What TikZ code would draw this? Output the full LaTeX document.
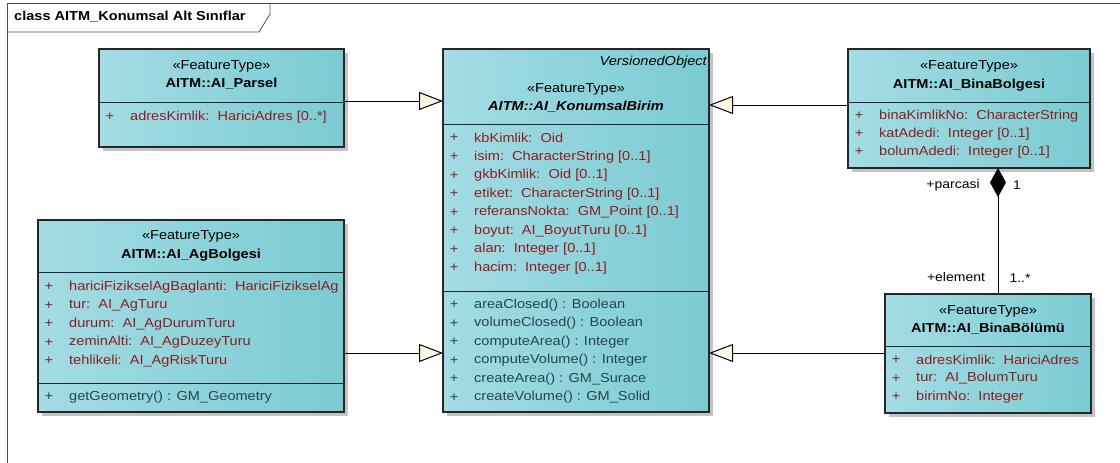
\documentclass[tikz,border=0pt]{standalone}
\usepackage{fontspec}
\setmainfont{Liberation Sans}[FakeStretch=1.12]
\usetikzlibrary{arrows.meta,shadows}
\definecolor{clsL}{HTML}{A3DCE4}
\definecolor{clsR}{HTML}{7BCBD2}
\definecolor{attrc}{HTML}{8B1E1E}
\definecolor{opc}{HTML}{23474C}
\definecolor{cream}{HTML}{FDF6E3}
\definecolor{shd}{HTML}{C4C4C4}
\newcommand\umlrow[5]{%
  \node[rowtxt,anchor=center,text=#4] (#1p) at (#2+11,#3) {+};
  \node[rowtxt,anchor=west,text=#4] (#1t) at (#2+31,#3) {#5};}
\begin{document}
\begin{tikzpicture}[x=1pt,y=-1pt,
  font=\fontsize{13}{15}\selectfont,
  cls/.style={draw=black!85, line width=1.2pt, left color=clsL, right color=clsR,
    anchor=north west, inner sep=0, outer sep=0,
    drop shadow={shadow xshift=4pt, shadow yshift=-4pt, fill=shd, opacity=1}},
  div/.style={draw=black!85, line width=1pt},
  rowtxt/.style={inner sep=0},
  stereo/.style={inner sep=0},
  cname/.style={inner sep=0, font=\fontsize{13}{15}\selectfont\bfseries},
  gen/.style={line width=1pt, -{Triangle[length=24pt,width=18pt,fill=cream]}},
  comp/.style={line width=1pt, {Diamond[length=29pt,width=16pt,fill=black]}-},
  lbl/.style={inner sep=0, font=\fontsize{12.5}{15}\selectfont}]
\useasboundingbox (0,0) rectangle (1120,463);
% frame
\draw[line width=0.8pt, black!70] (7,470) -- (7,3) -- (1125,3);
\draw[line width=0.8pt, black!70] (7,32) -- (259,32) -- (270,14) -- (270,3);
\node[anchor=west, inner sep=0, font=\fontsize{13}{15}\selectfont\bfseries] (title) at (14,17) {class AITM\_Konumsal Alt Sınıflar};

% AI_Parsel
\node[cls, minimum width=245pt, minimum height=98pt] (parsel) at (99,49) {};
\node[stereo] (parselS) at (221.5,66) {«FeatureType»};
\node[cname] (parselN) at (221.5,84) {AITM::AI\_Parsel};
\draw[div] (parsel.west |- 0,102) -- (parsel.east |- 0,102);
\umlrow{pa}{99}{117}{attrc}{adresKimlik:\ \ HariciAdres [0..*]}

% AI_KonumsalBirim
\node[cls, minimum width=266pt, minimum height=363pt] (konum) at (443,49) {};
\node[stereo, anchor=east, font=\fontsize{13}{15}\selectfont\itshape] (konumV) at (707,62) {VersionedObject};
\node[stereo] (konumS) at (576,89) {«FeatureType»};
\node[cname, font=\fontsize{13}{15}\selectfont\bfseries\itshape] (konumN) at (576,107) {AITM::AI\_KonumsalBirim};
\draw[div] (konum.west |- 0,124) -- (konum.east |- 0,124);
\umlrow{ka}{443}{138}{attrc}{kbKimlik:\ \ Oid}
\umlrow{kb}{443}{157}{attrc}{isim:\ \ CharacterString [0..1]}
\umlrow{kc}{443}{175.5}{attrc}{gkbKimlik:\ \ Oid [0..1]}
\umlrow{kd}{443}{194}{attrc}{etiket:\ \ CharacterString [0..1]}
\umlrow{ke}{443}{212.5}{attrc}{referansNokta:\ \ GM\_Point [0..1]}
\umlrow{kf}{443}{231}{attrc}{boyut:\ \ AI\_BoyutTuru [0..1]}
\umlrow{kg}{443}{249.5}{attrc}{alan:\ \ Integer [0..1]}
\umlrow{kh}{443}{268}{attrc}{hacim:\ \ Integer [0..1]}
\draw[div] (konum.west |- 0,291) -- (konum.east |- 0,291);
\umlrow{ko}{443}{305}{opc}{areaClosed() : Boolean}
\umlrow{kp}{443}{323.5}{opc}{volumeClosed() : Boolean}
\umlrow{kq}{443}{342}{opc}{computeArea() : Integer}
\umlrow{kr}{443}{360.5}{opc}{computeVolume() : Integer}
\umlrow{ks}{443}{379}{opc}{createArea() : GM\_Surace}
\umlrow{kt}{443}{397.5}{opc}{createVolume() : GM\_Solid}

% AI_BinaBolgesi
\node[cls, minimum width=242pt, minimum height=119pt] (bina) at (848,49) {};
\node[stereo] (binaS) at (969,66) {«FeatureType»};
\node[cname] (binaN) at (969,85) {AITM::AI\_BinaBolgesi};
\draw[div] (bina.west |- 0,102) -- (bina.east |- 0,102);
\umlrow{ba}{848}{116}{attrc}{binaKimlikNo:\ \ CharacterString}
\umlrow{bb}{848}{134}{attrc}{katAdedi:\ \ Integer [0..1]}
\umlrow{bc}{848}{152}{attrc}{bolumAdedi:\ \ Integer [0..1]}

% AI_AgBolgesi
\node[cls, minimum width=306pt, minimum height=192pt] (ag) at (38,220) {};
\node[stereo] (agS) at (191,236) {«FeatureType»};
\node[cname] (agN) at (191,255) {AITM::AI\_AgBolgesi};
\draw[div] (ag.west |- 0,272) -- (ag.east |- 0,272);
\umlrow{aa}{38}{287}{attrc}{hariciFizikselAgBaglanti:\ \ HariciFizikselAg}
\umlrow{ab}{38}{305.5}{attrc}{tur:\ \ AI\_AgTuru}
\umlrow{ac}{38}{324}{attrc}{durum:\ \ AI\_AgDurumTuru}
\umlrow{ad}{38}{342.5}{attrc}{zeminAlti:\ \ AI\_AgDuzeyTuru}
\umlrow{ae}{38}{361}{attrc}{tehlikeli:\ \ AI\_AgRiskTuru}
\draw[div] (ag.west |- 0,383) -- (ag.east |- 0,383);
\umlrow{ao}{38}{397}{opc}{getGeometry() : GM\_Geometry}

% AI_BinaBolumu
\node[cls, minimum width=206pt, minimum height=119pt] (bolum) at (885,294) {};
\node[stereo] (bolumS) at (988,311) {«FeatureType»};
\node[cname] (bolumN) at (988,329) {AITM::AI\_BinaBölümü};
\draw[div] (bolum.west |- 0,346) -- (bolum.east |- 0,346);
\umlrow{ua}{885}{360}{attrc}{adresKimlik:\ \ HariciAdres}
\umlrow{ub}{885}{378.5}{attrc}{tur:\ \ AI\_BolumTuru}
\umlrow{uc}{885}{397}{attrc}{birimNo:\ \ Integer}

% generalizations
\draw[gen] (parsel.east |- 0,101) -- (konum.west |- 0,101);
\draw[gen] (ag.east |- 0,353) -- (konum.west |- 0,353);
\draw[gen] (bina.west |- 0,105) -- (konum.east |- 0,105);
\draw[gen] (bolum.west |- 0,353) -- (konum.east |- 0,353);

% composition
\draw[comp] (bina.south -| 998,0) -- (bolum.north -| 998,0);
\node[lbl] (lparc) at (953,185) {+parcasi};
\node[lbl] (lone) at (1017,185) {1};
\node[lbl] (lelem) at (956,277) {+element};
\node[lbl] (lmany) at (1020,278) {1..*};
\end{tikzpicture}
\end{document}
